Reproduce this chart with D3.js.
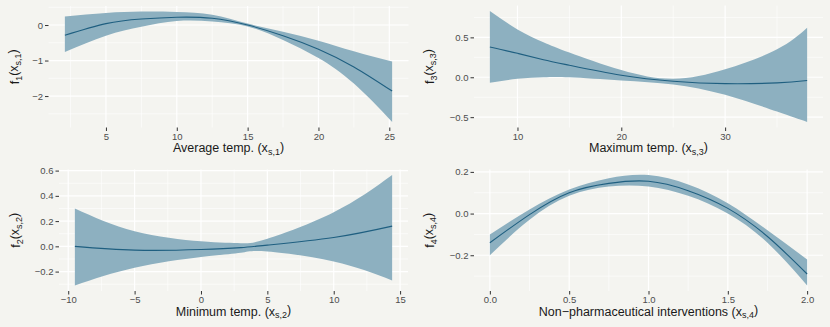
<!DOCTYPE html>
<html>
<head>
<meta charset="utf-8">
<script src="https://cdn.jsdelivr.net/npm/d3@7"></script>
<style>
  body { margin: 0; background: #f4f4f0; }
  svg { display: block; font-family: "Liberation Sans", Arial, sans-serif; }
</style>
</head>
<body>
<div id="chart"></div>
<script>
// f1 : average temperature
const f1X   = [2.1, 5, 7.5, 10, 12.5, 15, 17.5, 20, 22.5, 25.2];
const f1Fit = [-0.29, 0.04, 0.17, 0.22, 0.19, 0.0, -0.3, -0.68, -1.18, -1.86];
const f1Lo  = [-0.76, -0.3, -0.05, 0.11, 0.1, -0.04, -0.42, -0.93, -1.65, -2.73];
const f1Hi  = [0.24, 0.34, 0.38, 0.37, 0.29, 0.04, -0.19, -0.44, -0.74, -1.03];
const f1XTicks = [5, 10, 15, 20, 25];
const f1YTicks = [0, -1, -2];

// f3 : maximum temperature
const f3X   = [7.34, 10, 12.5, 15, 20, 25, 30, 35, 37.9];
const f3Fit = [0.38, 0.3, 0.22, 0.15, 0.025, -0.05, -0.08, -0.07, -0.04];
const f3Lo  = [-0.07, -0.02, 0.0, 0.0, -0.04, -0.09, -0.22, -0.43, -0.56];
const f3Hi  = [0.83, 0.6, 0.44, 0.31, 0.09, -0.02, 0.1, 0.35, 0.62];
const f3XTicks = [10, 20, 30];
const f3YTicks = [0.5, 0, -0.5];

// f2 : minimum temperature
const f2X   = [-9.5, -5, 0, 3, 5, 10, 14.4];
const f2Fit = [0.0, -0.03, -0.025, -0.01, 0.01, 0.07, 0.16];
const f2Lo  = [-0.31, -0.17, -0.085, -0.05, -0.04, -0.12, -0.27];
const f2Hi  = [0.3, 0.12, 0.04, 0.025, 0.06, 0.27, 0.565];
const f2XTicks = [-10, -5, 0, 5, 10, 15];
const f2YTicks = [0.6, 0.4, 0.2, 0, -0.2];

// f4 : non-pharmaceutical interventions
const f4X   = [0, 0.25, 0.5, 0.75, 1.0, 1.25, 1.5, 1.75, 2.0];
const f4Fit = [-0.14, -0.005, 0.1, 0.145, 0.155, 0.11, 0.025, -0.11, -0.29];
const f4Lo  = [-0.2, -0.03, 0.085, 0.13, 0.13, 0.085, 0.0, -0.14, -0.345];
const f4Hi  = [-0.1, 0.02, 0.115, 0.17, 0.185, 0.14, 0.05, -0.08, -0.22];
const f4XTicks = [0, 0.5, 1, 1.5, 2];
const f4YTicks = [0.2, 0, -0.2];

const W = 830, H = 327;
const bg = "#f4f4f0";

const svg = d3.select("#chart").append("svg")
  .attr("width", W)
  .attr("height", H);

svg.append("rect").attr("width", W).attr("height", H).attr("fill", bg);

function expand(ext) {
  const pad = (ext[1] - ext[0]) * 0.05;
  return [ext[0] - pad, ext[1] + pad];
}

function midpoints(ticks, domain) {
  const s = ticks.slice().sort((a, b) => a - b);
  const step = s[1] - s[0];
  const out = [];
  for (let v = s[0] - step / 2; v <= domain[1]; v += step) {
    if (v >= domain[0]) out.push(v);
  }
  return out;
}

function addLabel(sel, parts) {
  parts.forEach(p => {
    const t = sel.append("tspan").text(p[0]);
    if (p[1] === "sub") t.attr("dy", "0.3em").style("font-size", "9px");
    else if (p[1] === "up") t.attr("dy", "-0.3em");
  });
}

function drawPanel(cfg) {
  const xs = cfg.x, lo = cfg.lo, hi = cfg.hi, fit = cfg.fit;
  const rows = xs.map((d, i) => ({ x: d, fit: fit[i], lo: lo[i], hi: hi[i] }));

  const xDom = expand(d3.extent(xs));
  const yDom = expand([d3.min(lo), d3.max(hi)]);
  const x = d3.scaleLinear().domain(xDom).range([cfg.left, cfg.right]);
  const y = d3.scaleLinear().domain(yDom).range([cfg.bottom, cfg.top]);

  const g = svg.append("g");

  // minor grid
  g.selectAll("line.minor-x").data(midpoints(cfg.xTicks, xDom)).enter()
    .append("line")
    .attr("x1", d => x(d)).attr("x2", d => x(d))
    .attr("y1", cfg.top).attr("y2", cfg.bottom)
    .attr("stroke", "#fff").attr("stroke-width", 0.6);
  g.selectAll("line.minor-y").data(midpoints(cfg.yTicks, yDom)).enter()
    .append("line")
    .attr("y1", d => y(d)).attr("y2", d => y(d))
    .attr("x1", cfg.left).attr("x2", cfg.right)
    .attr("stroke", "#fff").attr("stroke-width", 0.6);

  // major grid
  g.selectAll("line.major-x").data(cfg.xTicks).enter()
    .append("line")
    .attr("x1", d => x(d)).attr("x2", d => x(d))
    .attr("y1", cfg.top).attr("y2", cfg.bottom)
    .attr("stroke", "#fff").attr("stroke-width", 1.2);
  g.selectAll("line.major-y").data(cfg.yTicks).enter()
    .append("line")
    .attr("y1", d => y(d)).attr("y2", d => y(d))
    .attr("x1", cfg.left).attr("x2", cfg.right)
    .attr("stroke", "#fff").attr("stroke-width", 1.2);

  const area = d3.area()
    .x(d => x(d.x)).y0(d => y(d.lo)).y1(d => y(d.hi))
    .curve(d3.curveNatural);
  const line = d3.line()
    .x(d => x(d.x)).y(d => y(d.fit))
    .curve(d3.curveNatural);

  g.append("path").datum(rows)
    .attr("d", area)
    .attr("fill", "#8db0c0");

  g.append("path").datum(rows)
    .attr("d", line)
    .attr("fill", "none")
    .attr("stroke", "#1f5f80")
    .attr("stroke-width", 1.1);

  // axes
  const xAxis = g.append("g")
    .attr("transform", `translate(0,${cfg.bottom})`)
    .call(d3.axisBottom(x).tickValues(cfg.xTicks).tickFormat(d3.format(cfg.xFmt))
      .tickSizeOuter(0).tickSizeInner(3.5).tickPadding(2));
  const yAxis = g.append("g")
    .attr("transform", `translate(${cfg.left},0)`)
    .call(d3.axisLeft(y).tickValues(cfg.yTicks).tickFormat(d3.format(cfg.yFmt))
      .tickSizeOuter(0).tickSizeInner(3.5).tickPadding(2));

  [xAxis, yAxis].forEach(a => {
    a.select(".domain").remove();
    a.selectAll(".tick line").attr("stroke", "#333");
    a.selectAll(".tick text")
      .attr("fill", "#4d4d4d")
      .style("font-size", "9.5px")
      .style("font-family", "'Liberation Sans', Arial, sans-serif");
  });

  const xt = g.append("text")
    .attr("x", (cfg.left + cfg.right) / 2)
    .attr("y", cfg.bottom + 24.5)
    .attr("text-anchor", "middle")
    .attr("fill", "#1a1a1a")
    .style("font-size", "12.5px");
  addLabel(xt, cfg.xLabel);

  const yt = g.append("text")
    .attr("transform", `translate(${cfg.yTitleX},${(cfg.top + cfg.bottom) / 2}) rotate(-90)`)
    .attr("text-anchor", "middle")
    .attr("fill", "#1a1a1a")
    .style("font-size", "12.5px");
  addLabel(yt, cfg.yLabel);
}

drawPanel({
  x: f1X, fit: f1Fit, lo: f1Lo, hi: f1Hi,
  xTicks: f1XTicks, yTicks: f1YTicks, xFmt: "d", yFmt: "d",
  left: 48.5, right: 408.5, top: 6, bottom: 127.5, yTitleX: 19,
  xLabel: [["Average temp. (x", ""], ["s,1", "sub"], [")", "up"]],
  yLabel: [["f", ""], ["1", "sub"], ["(x", "up"], ["s,1", "sub"], [")", "up"]]
});

drawPanel({
  x: f3X, fit: f3Fit, lo: f3Lo, hi: f3Hi,
  xTicks: f3XTicks, yTicks: f3YTicks, xFmt: "d", yFmt: ".1f",
  left: 474, right: 823, top: 5.5, bottom: 127.5, yTitleX: 434,
  xLabel: [["Maximum temp. (x", ""], ["s,3", "sub"], [")", "up"]],
  yLabel: [["f", ""], ["3", "sub"], ["(x", "up"], ["s,3", "sub"], [")", "up"]]
});

drawPanel({
  x: f2X, fit: f2Fit, lo: f2Lo, hi: f2Hi,
  xTicks: f2XTicks, yTicks: f2YTicks, xFmt: "d", yFmt: ".1f",
  left: 59, right: 408, top: 169.5, bottom: 291, yTitleX: 20,
  xLabel: [["Minimum temp. (x", ""], ["s,2", "sub"], [")", "up"]],
  yLabel: [["f", ""], ["2", "sub"], ["(x", "up"], ["s,2", "sub"], [")", "up"]]
});

drawPanel({
  x: f4X, fit: f4Fit, lo: f4Lo, hi: f4Hi,
  xTicks: f4XTicks, yTicks: f4YTicks, xFmt: ".1f", yFmt: ".1f",
  left: 474, right: 823, top: 169.5, bottom: 291, yTitleX: 434,
  xLabel: [["Non\u2212pharmaceutical interventions (x", ""], ["s,4", "sub"], [")", "up"]],
  yLabel: [["f", ""], ["4", "sub"], ["(x", "up"], ["s,4", "sub"], [")", "up"]]
});
</script>
</body>
</html>
